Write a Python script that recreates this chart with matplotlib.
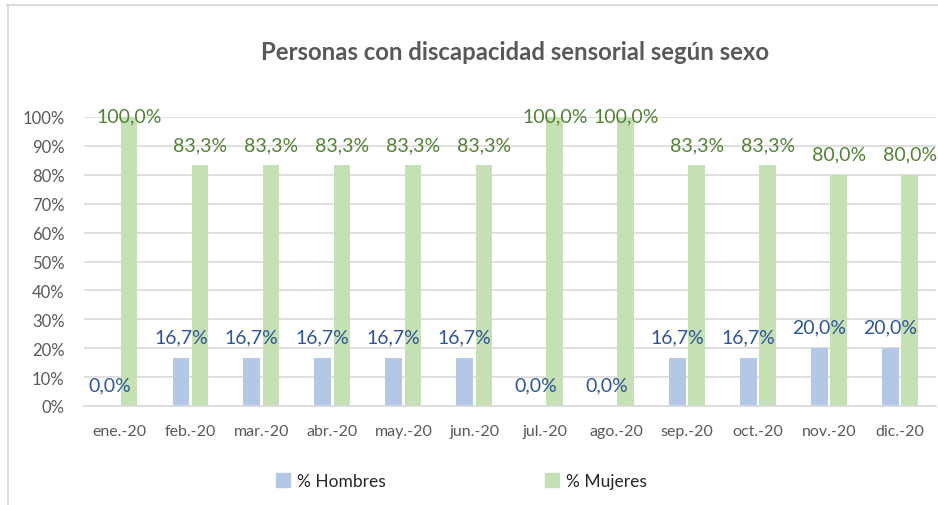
import matplotlib
matplotlib.use("Agg")
import matplotlib.pyplot as plt
from matplotlib.lines import Line2D
from matplotlib.patches import Patch
import numpy as np

plt.rcParams['font.family'] = ['Lato', 'DejaVu Sans']

categories = ["ene.-20", "feb.-20", "mar.-20", "abr.-20", "may.-20", "jun.-20",
              "jul.-20", "ago.-20", "sep.-20", "oct.-20", "nov.-20", "dic.-20"]
hombres = [0.0, 16.7, 16.7, 16.7, 16.7, 16.7, 0.0, 0.0, 16.7, 16.7, 20.0, 20.0]
mujeres = [100.0, 83.3, 83.3, 83.3, 83.3, 83.3, 100.0, 100.0, 83.3, 83.3, 80.0, 80.0]
yticks = [0, 10, 20, 30, 40, 50, 60, 70, 80, 90, 100]
title = "Personas con discapacidad sensorial según sexo"
series_names = ["% Hombres", "% Mujeres"]

c_blue = "#B4C7E7"
c_green = "#C5E0B4"
c_blue_lbl = "#2F5597"
c_green_lbl = "#548235"
c_grid = "#D9D9D9"
c_text = "#595959"

fig = plt.figure(figsize=(9.38, 5.06), dpi=100)
ax = fig.add_axes([84/938, 1-407/506, (935.5-84)/938, (407-118)/506])

x = np.arange(len(categories))
w = 0.235
off = 0.135
b1 = ax.bar(x - off, hombres, width=w, color=c_blue, zorder=2)
b2 = ax.bar(x + off, mujeres, width=w, color=c_green, zorder=2)

def fmt(v):
    return f"{v:.1f}%".replace(".", ",")

for xi, v in zip(x, hombres):
    ax.annotate(fmt(v), (xi - off, v), xytext=(0, 15.0), textcoords="offset points",
                ha="center", va="center", fontsize=14, color=c_blue_lbl, zorder=3,
                annotation_clip=False)
for xi, v in zip(x, mujeres):
    dy = 1.0 if v >= 100 else 15.0
    ax.annotate(fmt(v), (xi + off, v), xytext=(0, dy), textcoords="offset points",
                ha="center", va="center", fontsize=14, color=c_green_lbl, zorder=3,
                annotation_clip=False)

ax.set_xlim(-0.5, len(categories) - 0.5)
ax.set_ylim(0, 100)
ax.set_yticks(yticks)
ax.set_yticklabels([f"{t}%" for t in yticks])
ax.set_xticks(x)
ax.set_xticklabels(categories)
ax.tick_params(axis="both", length=0, colors=c_text, labelsize=12)
ax.tick_params(axis="x", labelsize=11.5, pad=13)
ax.tick_params(axis="y", pad=14)
ax.yaxis.grid(True, color=c_grid, linewidth=1.2, zorder=0)
ax.set_axisbelow(True)
for s in ["top", "right", "left"]:
    ax.spines[s].set_visible(False)
ax.spines["bottom"].set_color(c_grid)
ax.spines["bottom"].set_linewidth(1.2)

fig.text(515/938, 1-53/506, title, ha="center", va="center", fontsize=17.2,
         fontweight="bold", color=c_text)

# legend
common = dict(loc="center left", frameon=False, fontsize=12.5, handlelength=0.8,
              handleheight=0.8, handletextpad=0.4, borderpad=0, borderaxespad=0,
              labelcolor="#262626")
fig.legend(handles=[Patch(color=c_blue)], labels=[series_names[0]],
           bbox_to_anchor=(276/938, 1-482/506), **common)
fig.legend(handles=[Patch(color=c_green)], labels=[series_names[1]],
           bbox_to_anchor=(545/938, 1-482/506), **common)

# chart frame
fig.add_artist(Line2D([7.5/938, 7.5/938], [0, 1-5.5/506], transform=fig.transFigure,
                      color=c_grid, linewidth=1.3))
fig.add_artist(Line2D([7/938, 1], [1-5.5/506, 1-5.5/506], transform=fig.transFigure,
                      color=c_grid, linewidth=1.3))

fig.savefig("out.png", dpi=100)
